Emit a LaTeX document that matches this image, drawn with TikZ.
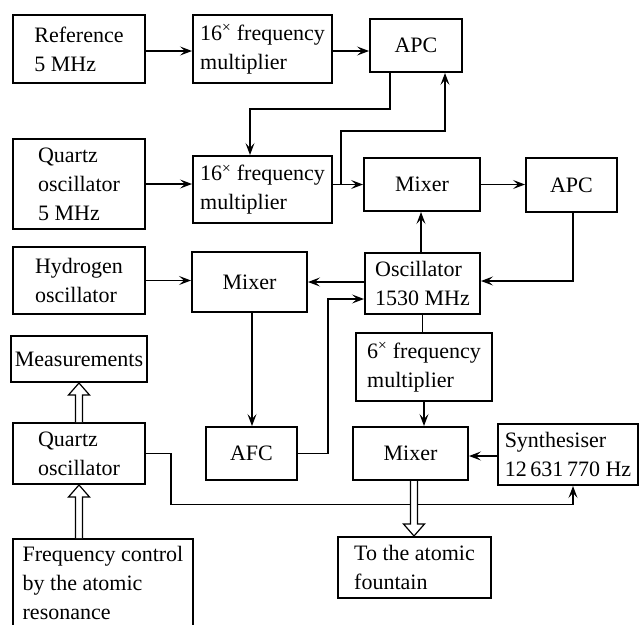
\documentclass[tikz,border=0pt]{standalone}
\usepackage{fontspec}
\setmainfont{Liberation Serif}
\usetikzlibrary{arrows.meta,calc}
\begin{document}
\begin{tikzpicture}[x=1pt,y=-1pt,
  box/.style={draw, line width=2pt, inner sep=0pt, align=left,
    font=\fontsize{22}{29}\selectfont},
  arr/.style={-{Stealth[length=12pt,width=9pt,inset=5pt]}, line width=1.2pt},
  plain/.style={line width=1.2pt},
  hollow/.style={line width=1.2pt, fill=white, line join=miter}]
\useasboundingbox (0,0) rectangle (640,624);
\newcommand\hollowup[2]{\draw[hollow] let \p1=(#1), \p2=(#2) in
  (\x1-3.5pt,\y1) -- (\x1-3.5pt,\y2-12pt) -- (\x1-10.5pt,\y2-12pt) -- (\x1,\y2)
  -- (\x1+10.5pt,\y2-12pt) -- (\x1+3.5pt,\y2-12pt) -- (\x1+3.5pt,\y1);}
\newcommand\hollowdown[2]{\draw[hollow] let \p1=(#1), \p2=(#2) in
  (\x1-3.5pt,\y1) -- (\x1-3.5pt,\y2+12pt) -- (\x1-10.5pt,\y2+12pt) -- (\x1,\y2)
  -- (\x1+10.5pt,\y2+12pt) -- (\x1+3.5pt,\y2+12pt) -- (\x1+3.5pt,\y1);}
% boxes
\node[box, minimum width=132pt, minimum height=68pt] (ref) at (79,49) {Reference\\5 MHz};
\node[box, minimum width=139pt, minimum height=68pt] (mult1) at (262.5,49) {16\textsuperscript{×} frequency\\multiplier};
\node[box, minimum width=92pt, minimum height=53pt] (apc1) at (416,45.5) {APC};
\node[box, minimum width=132pt, minimum height=90pt] (quartz1) at (79,184) {Quartz\\oscillator\\5 MHz};
\node[box, minimum width=139pt, minimum height=67pt] (mult2) at (262.5,189.5) {16\textsuperscript{×} frequency\\multiplier};
\node[box, minimum width=116pt, minimum height=53pt] (mixer1) at (422,184.5) {Mixer};
\node[box, minimum width=91pt, minimum height=54pt] (apc2) at (571.5,185) {APC};
\node[box, minimum width=132pt, minimum height=67pt] (hydrogen) at (79,280.5) {Hydrogen\\oscillator};
\node[box, minimum width=115pt, minimum height=60pt] (mixer2) at (249.5,282) {Mixer};
\node[box, minimum width=115pt, minimum height=61pt] (osc) at (422.5,283.5) {Oscillator\\1530 MHz};
\node[box, minimum width=136pt, minimum height=46pt] (meas) at (79,359) {Measurements};
\node[box, minimum width=136pt, minimum height=68pt] (mult6) at (424,367) {6\textsuperscript{×} frequency\\multiplier};
\node[box, minimum width=132pt, minimum height=61pt] (quartz2) at (79,453.5) {Quartz\\oscillator};
\node[box, minimum width=91pt, minimum height=53pt] (afc) at (251.5,453.5) {AFC};
\node[box, minimum width=115pt, minimum height=53pt] (mixer3) at (410.5,453.5) {Mixer};
\node[box, minimum width=140pt, minimum height=61pt] (synth) at (568,454.5) {Synthesiser\\12\,631\,770 Hz};
\node[box, minimum width=180pt, minimum height=87pt] (freq) at (103,582.5) {Frequency control\\by the atomic\\resonance};
\node[box, minimum width=153pt, minimum height=61pt] (fountain) at (414.5,567.5) {To the atomic\\fountain};
% connectors
\draw[arr] ([yshift=-2pt]ref.east) -- ([yshift=-2pt]ref.east -| mult1.west);
\draw[arr] ([yshift=-2pt]mult1.east) -- ([yshift=-2pt]mult1.east -| apc1.west);
\draw[arr] ([xshift=-26pt]apc1.south) -- ++(0,36) -| ([xshift=-12.5pt]mult2.north);
\draw[arr] (quartz1.east) -- (quartz1.east -| mult2.west);
\draw[arr] (mult2.east |- mixer1.west) -- (mixer1.west);
\coordinate (br) at ([xshift=8pt]mult2.east |- mixer1.west);
\draw[arr] (br) -- ++(0,-53.5) -| ([xshift=29pt]apc1.south);
\draw[arr] (mixer1.east) -- (mixer1.east -| apc2.west);
\draw[arr] ([xshift=1.5pt]apc2.south) |- ([yshift=2.5pt]osc.east);
\draw[arr] ([xshift=-1.5pt]osc.north) -- ([xshift=-1.5pt]osc.north |- mixer1.south);
\draw[arr] (osc.west |- mixer2.east) -- (mixer2.east);
\draw[arr] (hydrogen.east) -- (hydrogen.east -| mixer2.west);
\draw[arr] ([xshift=2.5pt]mixer2.south) -- ([xshift=2.5pt]mixer2.south |- afc.north);
\draw[arr] (afc.east) -- ++(30,0) |- ([yshift=-15.5pt]osc.west);
\draw[plain] (osc.south) -- (osc.south |- mult6.north);
\draw[arr] (mult6.south) -- (mult6.south |- mixer3.north);
\draw[arr] ([yshift=-1.5pt]synth.west) -- ([yshift=-1.5pt]synth.west -| mixer3.east);
\draw[arr] (quartz2.east) -- ++(25,0) -- ++(0,51) -| ([xshift=5pt]synth.south);
% hollow arrows
\hollowup{quartz2.north}{meas.south}
\hollowup{quartz2.south |- freq.north}{quartz2.south}
\hollowdown{[xshift=3.5pt]mixer3.south}{[xshift=3.5pt]mixer3.south |- fountain.north}
\end{tikzpicture}
\end{document}
